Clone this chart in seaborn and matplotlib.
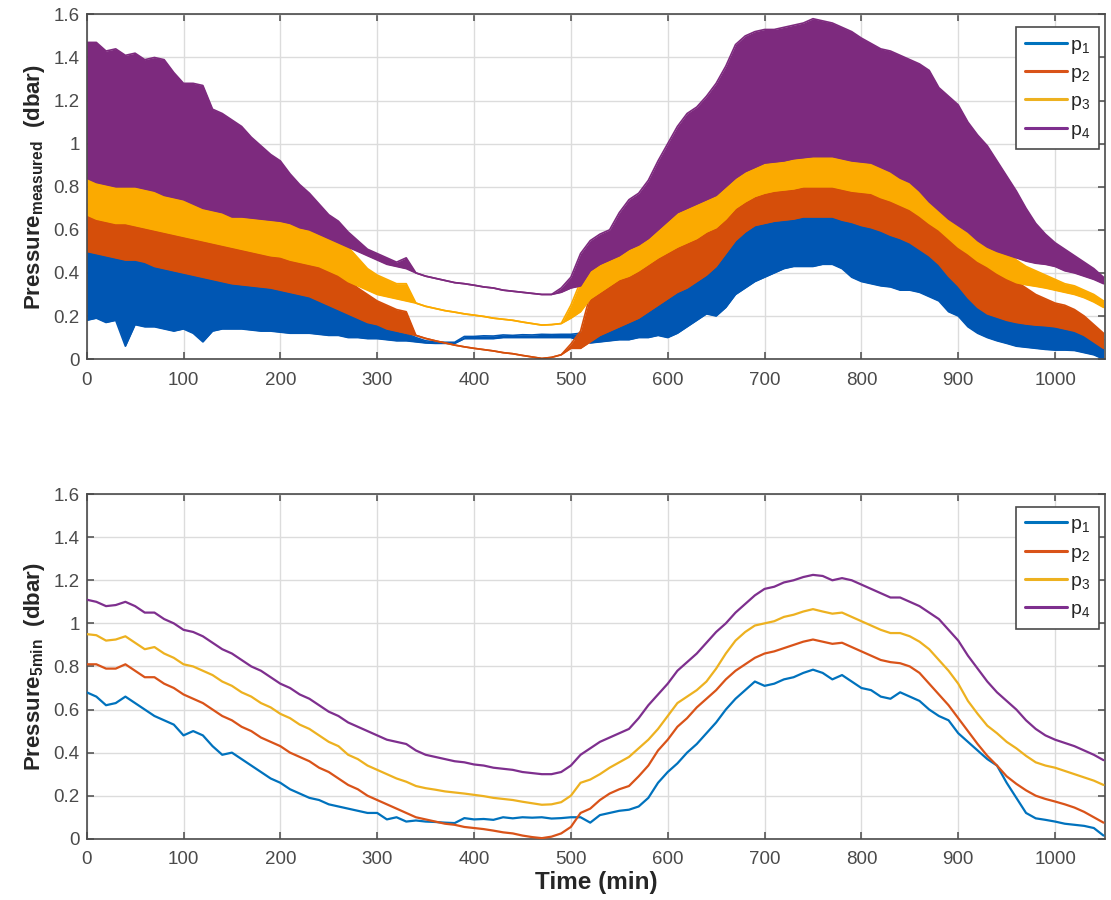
import numpy as np
import pandas as pd
import matplotlib
matplotlib.use("Agg")
import matplotlib.pyplot as plt
import seaborn as sns
from matplotlib.lines import Line2D
from matplotlib.ticker import FuncFormatter

sns.set_style("ticks")
plt.rcParams["font.family"] = ["Liberation Sans", "DejaVu Sans"]
plt.rcParams["mathtext.fontset"] = "custom"
plt.rcParams["mathtext.rm"] = "Liberation Sans"
plt.rcParams["mathtext.it"] = "Liberation Sans:italic"
plt.rcParams["mathtext.bf"] = "Liberation Sans:bold"

# ---------------------------------------------------------------- data
# sampling grid (minutes)
time_min = np.arange(0, 1051, 10)

sensors = ["p$_1$", "p$_2$", "p$_3$", "p$_4$"]
line_colors = ["#0072BD", "#D95319", "#EDB120", "#7E2F8E"]
band_colors = ["#0056B3", "#D54E0A", "#FBAA00", "#7D2A7E"]

# measured pressure: lower / upper envelope of the raw signal (dbar)
p1_lo = [0.18, 0.19, 0.17, 0.18, 0.06, 0.16, 0.15, 0.15, 0.14, 0.13,
         0.14, 0.12, 0.08, 0.13, 0.14, 0.14, 0.14, 0.135, 0.13, 0.13,
         0.125, 0.12, 0.12, 0.12, 0.115, 0.11, 0.11, 0.10, 0.10, 0.095,
         0.095, 0.09, 0.085, 0.085, 0.08, 0.075, 0.073, 0.073, 0.073, 0.095,
         0.095, 0.095, 0.095, 0.10, 0.10, 0.10, 0.10, 0.10, 0.10, 0.10,
         0.10, 0.085, 0.075, 0.08, 0.085, 0.09, 0.09, 0.10, 0.10, 0.11,
         0.10, 0.12, 0.15, 0.18, 0.21, 0.20, 0.24, 0.30, 0.33, 0.36,
         0.38, 0.40, 0.42, 0.43, 0.43, 0.43, 0.44, 0.44, 0.42, 0.38,
         0.36, 0.35, 0.34, 0.335, 0.32, 0.32, 0.31, 0.29, 0.27, 0.22,
         0.20, 0.15, 0.12, 0.10, 0.085, 0.073, 0.06, 0.055, 0.05, 0.045,
         0.042, 0.042, 0.04, 0.03, 0.02, 0.0]
p1_hi = [0.55, 0.54, 0.53, 0.52, 0.51, 0.51, 0.50, 0.48, 0.47, 0.46,
         0.45, 0.44, 0.43, 0.42, 0.41, 0.40, 0.395, 0.39, 0.385, 0.38,
         0.37, 0.36, 0.35, 0.34, 0.32, 0.30, 0.28, 0.26, 0.23, 0.20,
         0.17, 0.15, 0.13, 0.12, 0.10, 0.085, 0.08, 0.078, 0.078, 0.105,
         0.105, 0.108, 0.107, 0.112, 0.11, 0.113, 0.112, 0.115, 0.114, 0.115,
         0.115, 0.12, 0.13, 0.16, 0.18, 0.20, 0.22, 0.24, 0.27, 0.30,
         0.33, 0.36, 0.38, 0.41, 0.44, 0.47, 0.53, 0.60, 0.64, 0.67,
         0.68, 0.69, 0.69, 0.70, 0.71, 0.71, 0.71, 0.71, 0.69, 0.68,
         0.67, 0.66, 0.64, 0.62, 0.61, 0.59, 0.56, 0.53, 0.49, 0.43,
         0.39, 0.33, 0.29, 0.26, 0.24, 0.23, 0.22, 0.21, 0.205, 0.20,
         0.19, 0.18, 0.17, 0.15, 0.12, 0.09]

p2_lo = [0.50, 0.49, 0.48, 0.47, 0.46, 0.46, 0.45, 0.43, 0.42, 0.41,
         0.40, 0.39, 0.38, 0.37, 0.36, 0.35, 0.345, 0.34, 0.335, 0.33,
         0.32, 0.31, 0.30, 0.29, 0.27, 0.25, 0.23, 0.21, 0.19, 0.17,
         0.16, 0.14, 0.13, 0.12, 0.11, 0.096, 0.085, 0.075, 0.065, 0.057,
         0.05, 0.044, 0.038, 0.03, 0.025, 0.017, 0.01, 0.003, 0.008, 0.02,
         0.05, 0.05, 0.08, 0.11, 0.13, 0.15, 0.17, 0.19, 0.22, 0.25,
         0.28, 0.31, 0.33, 0.36, 0.39, 0.43, 0.49, 0.55, 0.59, 0.62,
         0.63, 0.64, 0.645, 0.65, 0.66, 0.66, 0.66, 0.66, 0.645, 0.635,
         0.62, 0.61, 0.595, 0.575, 0.56, 0.54, 0.51, 0.48, 0.44, 0.385,
         0.34, 0.285, 0.24, 0.21, 0.195, 0.18, 0.17, 0.163, 0.158, 0.155,
         0.15, 0.14, 0.13, 0.11, 0.08, 0.05]
p2_hi = [0.72, 0.70, 0.69, 0.68, 0.68, 0.67, 0.66, 0.65, 0.64, 0.63,
         0.62, 0.61, 0.60, 0.59, 0.58, 0.57, 0.56, 0.55, 0.54, 0.53,
         0.52, 0.51, 0.50, 0.49, 0.47, 0.45, 0.42, 0.37, 0.33, 0.30,
         0.27, 0.25, 0.23, 0.22, 0.11, 0.096, 0.085, 0.075, 0.065, 0.057,
         0.05, 0.044, 0.038, 0.03, 0.025, 0.017, 0.01, 0.003, 0.008, 0.02,
         0.07, 0.13, 0.30, 0.34, 0.37, 0.39, 0.41, 0.43, 0.46, 0.49,
         0.52, 0.55, 0.57, 0.59, 0.62, 0.64, 0.68, 0.73, 0.76, 0.79,
         0.80, 0.81, 0.815, 0.82, 0.83, 0.83, 0.83, 0.83, 0.82, 0.81,
         0.80, 0.80, 0.78, 0.77, 0.75, 0.73, 0.70, 0.67, 0.64, 0.60,
         0.56, 0.52, 0.48, 0.45, 0.42, 0.39, 0.36, 0.33, 0.30, 0.28,
         0.26, 0.25, 0.23, 0.20, 0.16, 0.12]

p3_lo = [0.67, 0.65, 0.64, 0.63, 0.63, 0.62, 0.61, 0.60, 0.59, 0.58,
         0.57, 0.56, 0.55, 0.54, 0.53, 0.52, 0.51, 0.50, 0.49, 0.48,
         0.475, 0.46, 0.45, 0.44, 0.43, 0.41, 0.39, 0.36, 0.34, 0.32,
         0.30, 0.29, 0.28, 0.27, 0.26, 0.245, 0.235, 0.225, 0.218, 0.21,
         0.204, 0.198, 0.19, 0.185, 0.18, 0.172, 0.165, 0.158, 0.16, 0.165,
         0.19, 0.22, 0.28, 0.31, 0.34, 0.37, 0.385, 0.41, 0.44, 0.47,
         0.495, 0.52, 0.54, 0.56, 0.59, 0.61, 0.65, 0.70, 0.73, 0.755,
         0.77, 0.78, 0.785, 0.79, 0.80, 0.80, 0.80, 0.80, 0.79, 0.78,
         0.775, 0.77, 0.75, 0.735, 0.715, 0.695, 0.665, 0.63, 0.60, 0.56,
         0.52, 0.49, 0.455, 0.43, 0.40, 0.375, 0.355, 0.345, 0.338, 0.33,
         0.32, 0.31, 0.30, 0.285, 0.265, 0.24]
p3_hi = [0.86, 0.85, 0.84, 0.83, 0.85, 0.83, 0.82, 0.81, 0.79, 0.78,
         0.77, 0.75, 0.73, 0.72, 0.71, 0.69, 0.69, 0.68, 0.68, 0.67,
         0.67, 0.66, 0.64, 0.63, 0.61, 0.58, 0.55, 0.52, 0.47, 0.42,
         0.39, 0.37, 0.35, 0.35, 0.26, 0.245, 0.235, 0.225, 0.218, 0.21,
         0.204, 0.198, 0.19, 0.185, 0.18, 0.172, 0.165, 0.158, 0.16, 0.165,
         0.25, 0.36, 0.44, 0.47, 0.49, 0.51, 0.54, 0.56, 0.59, 0.63,
         0.67, 0.71, 0.73, 0.75, 0.77, 0.79, 0.82, 0.87, 0.90, 0.92,
         0.94, 0.945, 0.95, 0.96, 0.965, 0.97, 0.97, 0.97, 0.96, 0.95,
         0.945, 0.94, 0.92, 0.90, 0.87, 0.84, 0.81, 0.76, 0.72, 0.68,
         0.65, 0.62, 0.58, 0.55, 0.52, 0.50, 0.46, 0.43, 0.41, 0.39,
         0.37, 0.35, 0.34, 0.32, 0.30, 0.27]

p4_lo = [0.84, 0.82, 0.81, 0.80, 0.80, 0.80, 0.79, 0.78, 0.76, 0.75,
         0.74, 0.72, 0.70, 0.69, 0.68, 0.66, 0.66, 0.655, 0.65, 0.645,
         0.64, 0.63, 0.61, 0.60, 0.58, 0.56, 0.54, 0.52, 0.50, 0.48,
         0.46, 0.44, 0.43, 0.42, 0.40, 0.385, 0.375, 0.365, 0.355, 0.35,
         0.343, 0.335, 0.33, 0.32, 0.315, 0.31, 0.305, 0.30, 0.30, 0.31,
         0.33, 0.34, 0.41, 0.44, 0.46, 0.48, 0.51, 0.53, 0.56, 0.60,
         0.64, 0.68, 0.70, 0.72, 0.74, 0.76, 0.80, 0.84, 0.87, 0.89,
         0.91, 0.915, 0.92, 0.93, 0.935, 0.94, 0.94, 0.94, 0.93, 0.92,
         0.915, 0.91, 0.89, 0.87, 0.84, 0.82, 0.78, 0.73, 0.69, 0.65,
         0.62, 0.59, 0.55, 0.52, 0.50, 0.485, 0.47, 0.455, 0.445, 0.44,
         0.43, 0.41, 0.40, 0.385, 0.37, 0.35]
p4_hi = [1.47, 1.47, 1.43, 1.44, 1.41, 1.42, 1.39, 1.40, 1.39, 1.33,
         1.28, 1.28, 1.27, 1.16, 1.14, 1.11, 1.08, 1.03, 0.99, 0.95,
         0.92, 0.86, 0.81, 0.77, 0.72, 0.67, 0.64, 0.59, 0.55, 0.51,
         0.49, 0.47, 0.45, 0.47, 0.40, 0.385, 0.375, 0.365, 0.355, 0.35,
         0.343, 0.335, 0.33, 0.32, 0.315, 0.31, 0.305, 0.30, 0.30, 0.33,
         0.38, 0.49, 0.55, 0.58, 0.60, 0.68, 0.74, 0.77, 0.83, 0.92,
         1.00, 1.08, 1.14, 1.17, 1.22, 1.28, 1.36, 1.46, 1.50, 1.52,
         1.53, 1.53, 1.54, 1.55, 1.56, 1.58, 1.57, 1.56, 1.54, 1.52,
         1.49, 1.465, 1.44, 1.43, 1.41, 1.39, 1.37, 1.34, 1.26, 1.22,
         1.18, 1.10, 1.04, 0.99, 0.92, 0.85, 0.78, 0.70, 0.63, 0.58,
         0.54, 0.51, 0.48, 0.45, 0.42, 0.38]

# 5-minute averaged pressure (dbar)
p1_5min = [0.68, 0.66, 0.62, 0.63, 0.66, 0.63, 0.60, 0.57, 0.55, 0.53,
           0.48, 0.50, 0.48, 0.43, 0.39, 0.40, 0.37, 0.34, 0.31, 0.28,
           0.26, 0.23, 0.21, 0.19, 0.18, 0.16, 0.15, 0.14, 0.13, 0.12,
           0.12, 0.09, 0.10, 0.08, 0.085, 0.08, 0.078, 0.075, 0.073, 0.096,
           0.09, 0.092, 0.088, 0.10, 0.095, 0.10, 0.098, 0.10, 0.094, 0.096,
           0.10, 0.10, 0.075, 0.11, 0.12, 0.13, 0.135, 0.15, 0.19, 0.26,
           0.31, 0.35, 0.40, 0.44, 0.49, 0.54, 0.60, 0.65, 0.69, 0.73,
           0.71, 0.72, 0.74, 0.75, 0.77, 0.785, 0.77, 0.74, 0.76, 0.73,
           0.70, 0.69, 0.66, 0.65, 0.68, 0.66, 0.64, 0.60, 0.57, 0.55,
           0.49, 0.45, 0.41, 0.37, 0.34, 0.26, 0.19, 0.12, 0.095, 0.088,
           0.08, 0.07, 0.065, 0.06, 0.05, 0.015]
p2_5min = [0.81, 0.81, 0.79, 0.79, 0.81, 0.78, 0.75, 0.75, 0.72, 0.70,
           0.67, 0.65, 0.63, 0.60, 0.57, 0.55, 0.52, 0.50, 0.47, 0.45,
           0.43, 0.40, 0.38, 0.36, 0.33, 0.31, 0.28, 0.25, 0.23, 0.20,
           0.18, 0.16, 0.14, 0.12, 0.10, 0.09, 0.08, 0.07, 0.065, 0.055,
           0.05, 0.045, 0.038, 0.03, 0.025, 0.015, 0.008, 0.003, 0.01, 0.025,
           0.055, 0.12, 0.14, 0.18, 0.21, 0.23, 0.245, 0.29, 0.34, 0.41,
           0.46, 0.52, 0.56, 0.61, 0.65, 0.69, 0.74, 0.78, 0.81, 0.84,
           0.86, 0.87, 0.885, 0.90, 0.915, 0.925, 0.915, 0.905, 0.91, 0.89,
           0.87, 0.85, 0.83, 0.82, 0.815, 0.80, 0.77, 0.72, 0.67, 0.62,
           0.56, 0.50, 0.44, 0.385, 0.34, 0.29, 0.255, 0.225, 0.20, 0.185,
           0.173, 0.16, 0.145, 0.125, 0.10, 0.075]
p3_5min = [0.95, 0.945, 0.92, 0.925, 0.94, 0.91, 0.88, 0.89, 0.86, 0.84,
           0.81, 0.80, 0.78, 0.76, 0.73, 0.71, 0.68, 0.66, 0.63, 0.61,
           0.58, 0.56, 0.53, 0.51, 0.48, 0.45, 0.43, 0.39, 0.37, 0.34,
           0.32, 0.30, 0.28, 0.265, 0.245, 0.235, 0.228, 0.22, 0.215, 0.21,
           0.204, 0.198, 0.19, 0.185, 0.18, 0.172, 0.165, 0.158, 0.16, 0.17,
           0.20, 0.26, 0.275, 0.30, 0.33, 0.355, 0.38, 0.42, 0.46, 0.51,
           0.57, 0.63, 0.66, 0.69, 0.73, 0.79, 0.86, 0.92, 0.96, 0.99,
           1.00, 1.01, 1.03, 1.04, 1.055, 1.066, 1.055, 1.045, 1.05, 1.03,
           1.01, 0.99, 0.97, 0.955, 0.955, 0.94, 0.915, 0.88, 0.83, 0.78,
           0.72, 0.64, 0.58, 0.525, 0.49, 0.45, 0.42, 0.385, 0.355, 0.34,
           0.33, 0.315, 0.30, 0.285, 0.27, 0.25]
p4_5min = [1.11, 1.10, 1.08, 1.085, 1.10, 1.08, 1.05, 1.05, 1.02, 1.00,
           0.97, 0.96, 0.94, 0.91, 0.88, 0.86, 0.83, 0.80, 0.78, 0.75,
           0.72, 0.70, 0.67, 0.65, 0.62, 0.59, 0.57, 0.54, 0.52, 0.50,
           0.48, 0.46, 0.45, 0.44, 0.41, 0.39, 0.38, 0.37, 0.36, 0.355,
           0.345, 0.34, 0.33, 0.325, 0.32, 0.31, 0.305, 0.30, 0.30, 0.31,
           0.34, 0.39, 0.42, 0.45, 0.47, 0.49, 0.51, 0.56, 0.62, 0.67,
           0.72, 0.78, 0.82, 0.86, 0.91, 0.96, 1.00, 1.05, 1.09, 1.13,
           1.16, 1.17, 1.19, 1.20, 1.215, 1.225, 1.22, 1.20, 1.21, 1.20,
           1.18, 1.16, 1.14, 1.12, 1.12, 1.10, 1.08, 1.05, 1.02, 0.97,
           0.92, 0.85, 0.79, 0.73, 0.68, 0.64, 0.60, 0.55, 0.51, 0.48,
           0.46, 0.445, 0.43, 0.41, 0.39, 0.365]

x_ticks = [0, 100, 200, 300, 400, 500, 600, 700, 800, 900, 1000]
y_ticks = [0, 0.2, 0.4, 0.6, 0.8, 1.0, 1.2, 1.4, 1.6]

# ---------------------------------------------------------------- figure
fig = plt.figure(figsize=(11.11, 9.0), dpi=100)
ax_top = fig.add_axes([0.078, 0.601, 0.917, 0.383])
ax_bot = fig.add_axes([0.078, 0.068, 0.917, 0.383])

# raw signal envelopes, drawn p1 first so p4 ends up on top
envelopes = [(p1_lo, p1_hi), (p2_lo, p2_hi), (p3_lo, p3_hi), (p4_lo, p4_hi)]
for (lo, hi), col in zip(envelopes, band_colors):
    ax_top.fill_between(time_min, lo, hi, color=col, linewidth=0, zorder=2)
    sns.lineplot(x=time_min, y=lo, color=col, linewidth=1.2, ax=ax_top, zorder=2)
    sns.lineplot(x=time_min, y=hi, color=col, linewidth=1.2, ax=ax_top, zorder=2)

# 5-minute averages
df5 = pd.DataFrame({
    "time": np.tile(time_min, 4),
    "pressure": np.concatenate([p1_5min, p2_5min, p3_5min, p4_5min]),
    "sensor": np.repeat(sensors, len(time_min)),
})
sns.lineplot(data=df5, x="time", y="pressure", hue="sensor",
             hue_order=sensors, palette=dict(zip(sensors, line_colors)),
             linewidth=1.6, legend=False, ax=ax_bot, zorder=3)

# ---------------------------------------------------------------- styling
axis_grey = "#4A4A4A"
tick_fmt = FuncFormatter(lambda v, _: f"{v:g}")
for ax in (ax_top, ax_bot):
    ax.set_xlim(0, 1052)
    ax.set_ylim(0, 1.6)
    ax.set_xticks(x_ticks)
    ax.set_yticks(y_ticks)
    ax.yaxis.set_major_formatter(tick_fmt)
    ax.grid(True, color="#DCDCDC", linewidth=1.0, zorder=0)
    ax.set_axisbelow(True)
    ax.tick_params(direction="in", length=5, width=1.1, top=True, right=True,
                   labelsize=13.5, labelcolor=axis_grey, color=axis_grey, pad=5)
    ax.tick_params(axis="x", pad=9)
    for sp in ax.spines.values():
        sp.set_visible(True)
        sp.set_color(axis_grey)
        sp.set_linewidth(1.2)
    ax.set_xlabel("")
    handles = [Line2D([0], [0], color=c, linewidth=2.2) for c in line_colors]
    leg = ax.legend(handles, sensors, loc="upper right",
                    bbox_to_anchor=(0.9934, 0.963), fontsize=14,
                    frameon=True, fancybox=False, framealpha=1.0,
                    edgecolor=axis_grey, handlelength=2.15, handletextpad=0.15,
                    labelspacing=0.45, borderpad=0.45, borderaxespad=0.0)
    leg.get_frame().set_linewidth(1.2)

ax_top.set_ylabel("Pressure$_{\\mathregular{measured}}$  (dbar)",
                  fontsize=16, fontweight="bold", labelpad=5)
ax_bot.set_ylabel("Pressure$_{\\mathregular{5min}}$  (dbar)",
                  fontsize=16, fontweight="bold", labelpad=5)
ax_bot.set_xlabel("Time (min)", fontsize=17.5, fontweight="bold", labelpad=2)

fig.savefig("out.png", dpi=100, facecolor="white")
